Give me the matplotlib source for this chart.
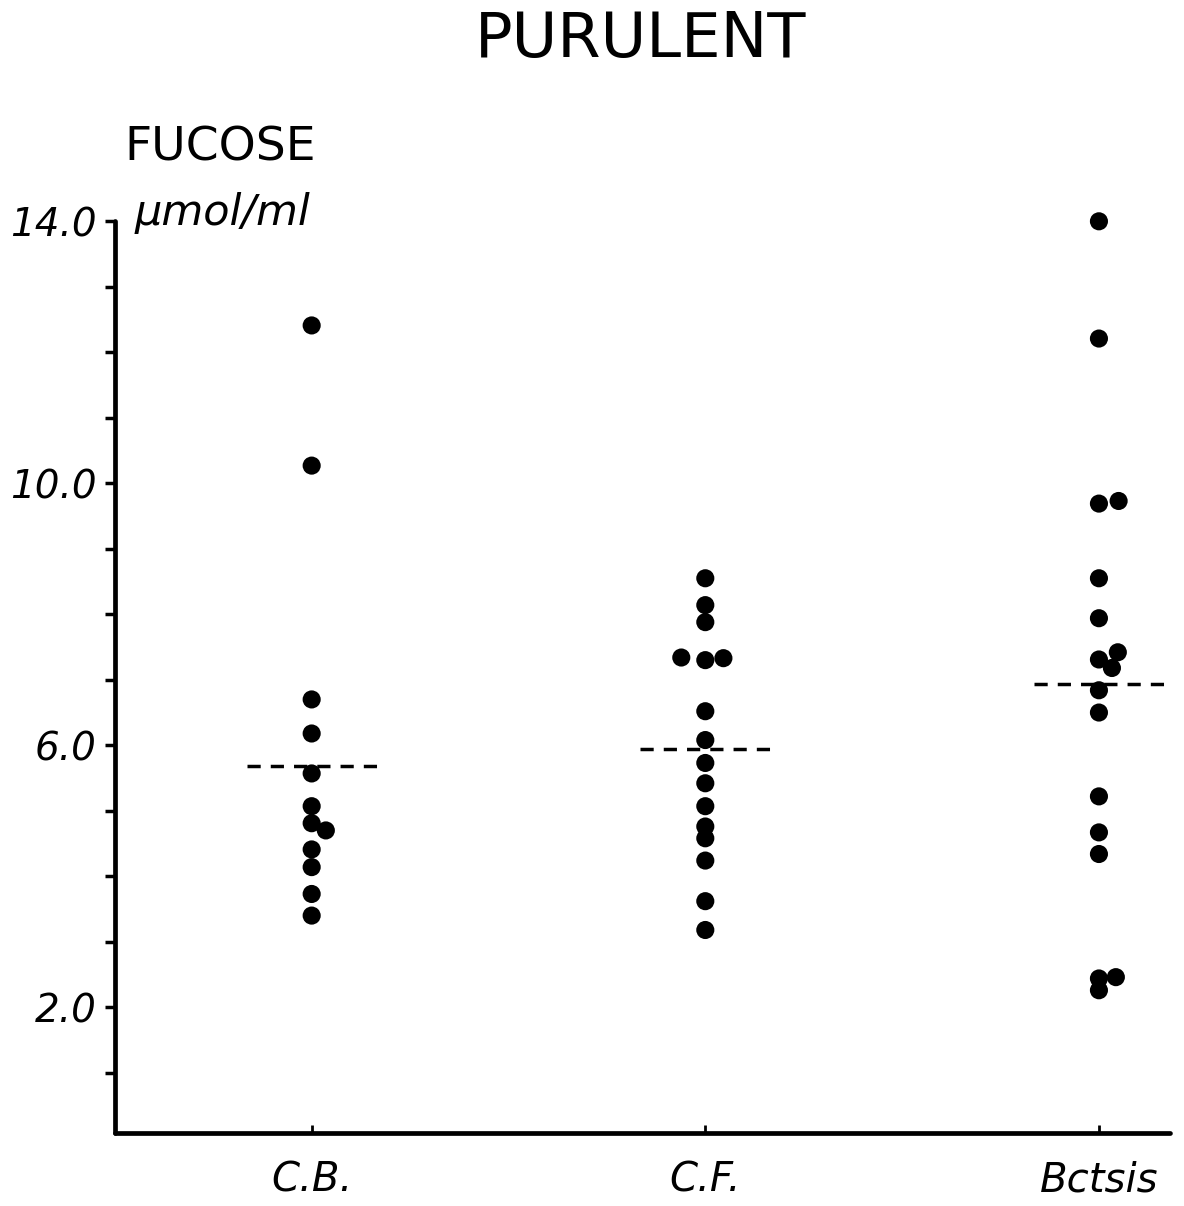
import matplotlib.pyplot as plt
from matplotlib.ticker import MultipleLocator

# fucose values (umol/ml), with small sideways shifts of overlapping dots
groups = ["C.B.", "C.F.", "Bctsis"]

cb_vals = [12.41, 10.27, 6.70, 6.18, 5.57, 5.07, 4.81, 4.70, 4.41, 4.14, 3.73, 3.40]
cb_shift = [0, 0, 0, 0, 0, 0, 0, 0.036, 0, 0, 0, 0]

cf_vals = [8.55, 8.14, 7.88, 7.34, 7.30, 7.33, 6.52, 6.08, 5.73, 5.42, 5.07, 4.76, 4.58, 4.24, 3.62, 3.18]
cf_shift = [0, 0, 0, -0.061, 0, 0.046, 0, 0, 0, 0, 0, 0, 0, 0, 0, 0]

bc_vals = [14.0, 12.21, 9.69, 9.73, 8.55, 7.94, 7.31, 7.42, 7.18, 6.84, 6.50, 5.22, 4.67, 4.34, 2.44, 2.26, 2.46]
bc_shift = [0, 0, 0, 0.05, 0, 0, 0, 0.048, 0.033, 0, 0, 0, 0, 0, 0, 0, 0.043]

medians = [5.69, 5.94, 6.93]

yticks = [2, 6, 10, 14]
ytick_labels = ["2.0", "6.0", "10.0", "14.0"]

fig = plt.figure(figsize=(11.84, 12.06), dpi=100)
ax = fig.add_axes([0.097, 0.0605, 0.891, 0.756])

for i, (vals, shift) in enumerate([(cb_vals, cb_shift), (cf_vals, cf_shift), (bc_vals, bc_shift)]):
    xs = [i + 1 + s for s in shift]
    ax.scatter(xs, vals, s=170, color="black", zorder=3, edgecolors="none", clip_on=False)
    ax.plot([i + 1 - 0.165, i + 1 + 0.168], [medians[i], medians[i]], color="black",
            linestyle=(0, (3.8, 2.9)), linewidth=2.5)

ax.set_xlim(0.5, 3.18)
ax.set_ylim(0.08, 14.0)

for side in ["top", "right"]:
    ax.spines[side].set_visible(False)
for side in ["left", "bottom"]:
    ax.spines[side].set_linewidth(3.4)
    ax.spines[side].set_capstyle("round")

ax.set_yticks(yticks)
ax.set_yticklabels(ytick_labels, fontsize=28, style="italic", family="DejaVu Sans")
ax.yaxis.set_minor_locator(MultipleLocator(1))
ax.tick_params(axis="y", which="both", direction="out", length=7, width=2.5, pad=6)

ax.set_xticks([1, 2, 3])
ax.set_xticklabels(groups, fontsize=29, style="italic", family="DejaVu Sans")
ax.tick_params(axis="x", direction="in", length=6, width=2, pad=20)

fig.text(0.541, 0.967, "PURULENT", fontsize=45, ha="center", va="center", family="DejaVu Sans")
fig.text(0.105, 0.877, "FUCOSE", fontsize=34, ha="left", va="center", family="DejaVu Sans")
fig.text(0.114, 0.823, "\u03bcmol/ml", fontsize=31, ha="left", va="center",
         style="italic", family="DejaVu Sans")

fig.savefig("out.png", dpi=100)
